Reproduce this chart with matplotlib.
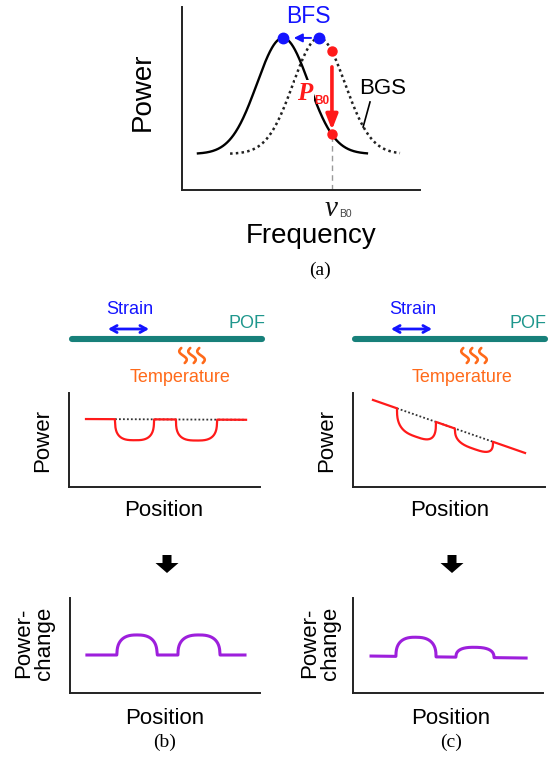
import numpy as np
import matplotlib
matplotlib.use("Agg")
import matplotlib.pyplot as plt
import matplotlib.patches as patches

plt.rcParams['font.family'] = ['Liberation Sans', 'DejaVu Sans']

# ── Figure size (pixels) ──────────────────────────────────────────────────────
W, H = 549, 760

# ── Panel (a): Brillouin gain spectra (axis units 0..100) ────────────────────
BGS_PEAKS   = [42.4, 57.6]      # shifted (solid), original (dotted)
BGS_SPANS   = [(6.7, 77.7), (20.2, 91.6)]
BGS_WIDTH   = 10.9
BGS_BASE    = 19.7
BGS_HEIGHT  = 63.4
NU_B0       = 63.0
BGS_LEADER  = [(79.0, 48.1), (76.1, 34.4)]

# ── Panels (b), (c): power / power-change along the fibre ────────────────────
B_POWER_SPAN   = (8.9, 92.7)
B_POWER_LEVEL  = (72.3, 71.5)
B_POWER_DIPS   = [(24.1, 44.5, -22.3), (56.0, 77.5, -22.3)]
B_REF_SPAN     = (24.1, 92.0)

C_POWER_SPAN   = (10.4, 89.6)
C_POWER_LEVEL  = (92.6, 36.2)
C_POWER_DIPS   = [(22.9, 43.2, -23.2), (53.1, 72.9, -14.7)]
C_REF_SPAN     = (22.9, 72.9)

B_CHANGE_SPAN  = (8.9, 92.1)
B_CHANGE_LEVEL = (40.0, 40.0)
B_CHANGE_BUMPS = [(24.7, 45.8, 21.1), (56.8, 78.9, 21.1)]

C_CHANGE_SPAN  = (9.5, 91.1)
C_CHANGE_LEVEL = (38.9, 36.8)
C_CHANGE_BUMPS = [(22.6, 43.7, 20.4), (54.2, 74.2, 10.6)]

RED    = '#ff1a1a'
BLUE   = '#1414ff'
TEAL   = '#17807a'
TEAL_T = '#1f978d'
ORANGE = '#ff6a1a'
PURPLE = '#9d1fdc'


def bgs(f, center):
    return BGS_BASE + BGS_HEIGHT * np.exp(-(f - center) ** 2 / (2 * BGS_WIDTH ** 2))


def trace(span, level, bumps, p=3.0, n=800):
    x = np.linspace(span[0], span[1], n)
    y = level[0] + (level[1] - level[0]) * (x - span[0]) / (span[1] - span[0])
    for a, b, h in bumps:
        c, w = (a + b) / 2, (b - a) / 2
        inside = np.abs(x - c) < w
        t = np.abs(x[inside] - c) / w
        y[inside] += h * (1 - t ** p) ** (1 / p)
    return x, y


def line_at(span, level, x):
    return level[0] + (level[1] - level[0]) * (x - span[0]) / (span[1] - span[0])


fig = plt.figure(figsize=(W / 100, H / 100), dpi=100)

# overlay in pixel coordinates for labels and decorations
ov = fig.add_axes([0, 0, 1, 1])
ov.set_xlim(0, W)
ov.set_ylim(H, 0)
ov.axis('off')
ov.patch.set_alpha(0)


def panel_axes(x0, x1, ytop, ybot):
    ax = fig.add_axes([x0 / W, 1 - ybot / H, (x1 - x0) / W, (ybot - ytop) / H])
    ax.set_xlim(0, 100)
    ax.set_ylim(0, 100)
    for s in ['top', 'right']:
        ax.spines[s].set_visible(False)
    for s in ['left', 'bottom']:
        ax.spines[s].set_linewidth(1.4)
        ax.spines[s].set_color('#222222')
    ax.set_xticks([])
    ax.set_yticks([])
    ax.patch.set_alpha(0)
    return ax


# ─────────────────────────────────────────────────────────────────────────────
# Panel (a)
# ─────────────────────────────────────────────────────────────────────────────
ax_a = panel_axes(182, 420, 7, 190)

f_sol = np.linspace(*BGS_SPANS[0], 400)
f_dot = np.linspace(*BGS_SPANS[1], 400)
ax_a.plot(f_sol, bgs(f_sol, BGS_PEAKS[0]), color='black', lw=1.7, zorder=3)
ax_a.plot(f_dot, bgs(f_dot, BGS_PEAKS[1]), color='#222222', lw=1.8,
          dashes=(1, 1.3), zorder=2)

# peaks + BFS arrow
peak_y = BGS_BASE + BGS_HEIGHT
ax_a.plot(BGS_PEAKS, [peak_y, peak_y], 'o', color=BLUE, ms=7.5, zorder=5)
ax_a.annotate('', xy=(BGS_PEAKS[0] + 3.4, peak_y), xytext=(BGS_PEAKS[1] - 2.2, peak_y),
              arrowprops=dict(arrowstyle='-|>,head_width=0.25,head_length=0.5',
                              color=BLUE, lw=1.4), zorder=5)
ax_a.text(BGS_PEAKS[0] + 10.5, peak_y + 11.5, 'BFS', color=BLUE, fontsize=16.5,
          ha='center', va='center')

# power drop at nu_B0
p_hi = bgs(NU_B0, BGS_PEAKS[1])
p_lo = bgs(NU_B0, BGS_PEAKS[0])
ax_a.plot([NU_B0, NU_B0], [0, p_lo], color='#9a9a9a', lw=1.0, ls=(0, (4, 3)), zorder=1)
ax_a.plot([NU_B0, NU_B0], [p_hi, p_lo], 'o', color=RED, ms=6.5, zorder=6)
ax_a.annotate('', xy=(NU_B0, p_lo + 2.5), xytext=(NU_B0, p_hi - 8.5),
              arrowprops=dict(arrowstyle='-|>,head_width=0.35,head_length=0.9',
                              color=RED, lw=2.6, shrinkA=0, shrinkB=0), zorder=6)
ax_a.text(NU_B0 - 8.4, 53.0, 'P', color=RED, fontsize=18, fontweight='bold',
          fontstyle='italic', family='Liberation Serif', ha='right', va='center',
          bbox=dict(facecolor='white', edgecolor='none', pad=1.5), zorder=4)
ax_a.text(NU_B0 - 7.6, 48.6, 'B0', color=RED, fontsize=8.5, fontweight='bold',
          ha='left', va='center', zorder=5)

# BGS label with leader
ax_a.plot(*zip(*BGS_LEADER), color='black', lw=1.2, zorder=3)
ax_a.text(84.5, 55.5, 'BGS', fontsize=16, ha='center', va='center')

ov.text(143, 92, 'Power', fontsize=20, rotation=90, ha='center', va='center')
ov.text(331, 209, 'ν', fontsize=21, fontstyle='italic', family='Liberation Serif',
        ha='center', va='center', color='#111111')
ov.text(339, 214, 'B0', fontsize=7.5, ha='left', va='center', color='#444444')
ov.text(311, 236, 'Frequency', fontsize=20, ha='center', va='center')
ov.text(320, 270, '(a)', fontsize=14, family='Liberation Serif', ha='center', va='center')


# ─────────────────────────────────────────────────────────────────────────────
# Fibre sketches for (b) and (c)
# ─────────────────────────────────────────────────────────────────────────────
def fibre(x0, x1, strain_c, temp_c, pof_c):
    ov.plot([x0, x1], [339, 339], color=TEAL, lw=4.4, solid_capstyle='round')
    ov.text(pof_c, 323, 'POF', color=TEAL_T, fontsize=13, ha='center', va='center')
    ov.text(strain_c, 309, 'Strain', color=BLUE, fontsize=13, ha='center', va='center')
    ov.annotate('', xy=(strain_c + 19, 329), xytext=(strain_c - 22, 329),
                arrowprops=dict(arrowstyle='<->,head_width=0.25,head_length=0.45',
                                color=BLUE, lw=2.0, shrinkA=0, shrinkB=0))
    # heat squiggles
    t = np.linspace(0, 1, 60)
    for dx in (-9, 0, 9):
        cx = temp_c + 12 + dx
        xs = cx - 3.5 * (t - 0.5) + 2.8 * np.sin(2 * np.pi * t)
        ys = 363 - 15 * t
        ov.plot(xs, ys, color=ORANGE, lw=1.9, solid_capstyle='round')
    ov.text(temp_c, 377, 'Temperature', color=ORANGE, fontsize=13, ha='center', va='center')


fibre(72, 262, 130, 180, 247)
fibre(355, 545, 413, 462, 528)

# ─────────────────────────────────────────────────────────────────────────────
# Power along fibre
# ─────────────────────────────────────────────────────────────────────────────
ax_b1 = panel_axes(69, 260, 393, 487)
ax_b1.plot(B_REF_SPAN, line_at(B_POWER_SPAN, B_POWER_LEVEL, np.array(B_REF_SPAN)),
           color='#333333', lw=1.3, dashes=(1, 1.2), zorder=2)
ax_b1.plot(*trace(B_POWER_SPAN, B_POWER_LEVEL, B_POWER_DIPS), color=RED, lw=1.6, zorder=3)

ax_c1 = panel_axes(353, 545, 393, 487)
ax_c1.plot(C_REF_SPAN, line_at(C_POWER_SPAN, C_POWER_LEVEL, np.array(C_REF_SPAN)),
           color='#333333', lw=1.3, dashes=(1, 1.2), zorder=2)
ax_c1.plot(*trace(C_POWER_SPAN, C_POWER_LEVEL, C_POWER_DIPS), color=RED, lw=1.6, zorder=3)

for x_lab, x_pos in ((43, 164), (327, 450)):
    ov.text(x_lab, 440, 'Power', fontsize=16, rotation=90, ha='center', va='center')
    ov.text(x_pos, 510, 'Position', fontsize=16, ha='center', va='center')

# down arrows
for xc in (167, 452):
    ov.add_patch(patches.FancyArrow(xc, 555, 0, 18, width=9, head_width=23,
                                    head_length=10, length_includes_head=True,
                                    color='black', lw=0))

# ─────────────────────────────────────────────────────────────────────────────
# Power change
# ─────────────────────────────────────────────────────────────────────────────
ax_b2 = panel_axes(70, 260, 598, 693)
ax_b2.plot(*trace(B_CHANGE_SPAN, B_CHANGE_LEVEL, B_CHANGE_BUMPS, p=2.6), color=PURPLE, lw=2.2)

ax_c2 = panel_axes(353, 543, 598, 693)
ax_c2.plot(*trace(C_CHANGE_SPAN, C_CHANGE_LEVEL, C_CHANGE_BUMPS, p=2.6), color=PURPLE, lw=2.2)

for x_lab, x_pos, tag in ((34, 165, '(b)'), (320, 451, '(c)')):
    ov.text(x_lab, 643, 'Power-\nchange', fontsize=16, rotation=90, ha='center',
            va='center', linespacing=0.95)
    ov.text(x_pos, 718, 'Position', fontsize=16, ha='center', va='center')
    ov.text(x_pos, 742, tag, fontsize=14, family='Liberation Serif', ha='center', va='center')

fig.savefig('out.png', dpi=100, facecolor='white')
